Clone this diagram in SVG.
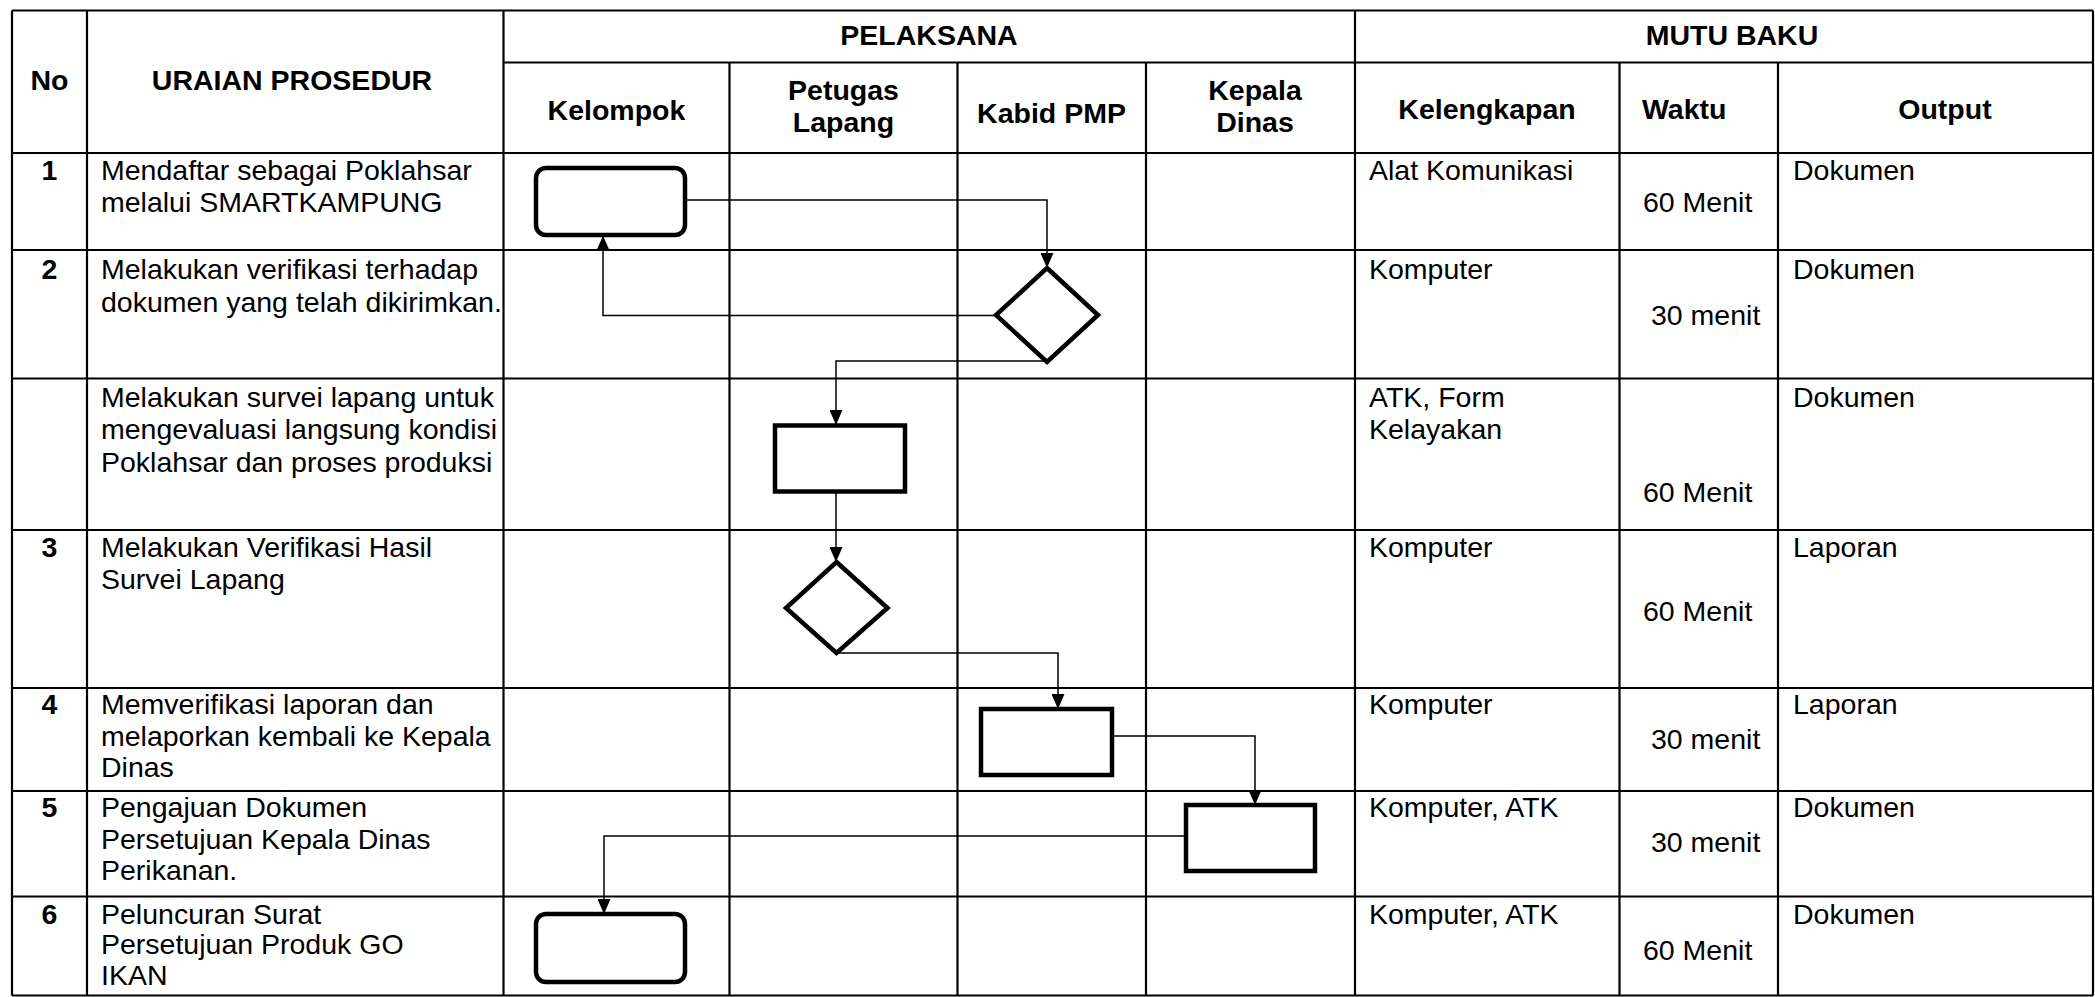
<svg xmlns="http://www.w3.org/2000/svg" width="2095" height="997" viewBox="0 0 2095 997">
<style>
  text { font-family: "Liberation Sans", Arial, sans-serif; font-size: 28.5px; fill: #000; }
  .b { font-weight: bold; }
  .c { text-anchor: middle; }
  .grid line { stroke: #000; stroke-width: 2.2; }
  .shape { fill: #fff; stroke: #000; stroke-width: 4.5; stroke-linejoin: miter; }
  .conn path { fill: none; stroke: #000; stroke-width: 1.5; }
</style>
<defs>
  <marker id="arr" markerUnits="userSpaceOnUse" markerWidth="15" markerHeight="13" refX="15" refY="6.5" orient="auto">
    <path d="M0,0 L15,6.5 L0,13 z" fill="#000"/>
  </marker>
</defs>
<rect x="0" y="0" width="2095" height="997" fill="#fff"/>

<g id="table" class="grid">
  <line x1="12" y1="10.5" x2="2093" y2="10.5"/>
  <line x1="503.5" y1="62.5" x2="2093" y2="62.5"/>
  <line x1="12" y1="153" x2="2093" y2="153"/>
  <line x1="12" y1="250" x2="2093" y2="250"/>
  <line x1="12" y1="378.5" x2="2093" y2="378.5"/>
  <line x1="12" y1="530" x2="2093" y2="530"/>
  <line x1="12" y1="688" x2="2093" y2="688"/>
  <line x1="12" y1="791" x2="2093" y2="791"/>
  <line x1="12" y1="896.5" x2="2093" y2="896.5"/>
  <line x1="12" y1="995.5" x2="2093" y2="995.5"/>
  <line x1="12" y1="10.5" x2="12" y2="995.5"/>
  <line x1="87" y1="10.5" x2="87" y2="995.5"/>
  <line x1="503.5" y1="10.5" x2="503.5" y2="995.5"/>
  <line x1="729.5" y1="62.5" x2="729.5" y2="995.5"/>
  <line x1="957.5" y1="62.5" x2="957.5" y2="995.5"/>
  <line x1="1146" y1="62.5" x2="1146" y2="995.5"/>
  <line x1="1355" y1="10.5" x2="1355" y2="995.5"/>
  <line x1="1619.5" y1="62.5" x2="1619.5" y2="995.5"/>
  <line x1="1778" y1="62.5" x2="1778" y2="995.5"/>
  <line x1="2093" y1="10.5" x2="2093" y2="995.5"/>
</g>

<g id="headers">
  <text class="b c" x="49.5" y="89.5">No</text>
  <text class="b c" x="292" y="89.5">URAIAN PROSEDUR</text>
  <text class="b c" x="929" y="45">PELAKSANA</text>
  <text class="b c" x="1732" y="45">MUTU BAKU</text>
  <text class="b c" x="616.5" y="119.5">Kelompok</text>
  <text class="b c" x="843.5" y="100">Petugas</text>
  <text class="b c" x="843.5" y="132">Lapang</text>
  <text class="b c" x="1051.5" y="122.5">Kabid PMP</text>
  <text class="b c" x="1255" y="100">Kepala</text>
  <text class="b c" x="1255" y="132">Dinas</text>
  <text class="b c" x="1487" y="119">Kelengkapan</text>
  <text class="b" x="1642" y="118.5">Waktu</text>
  <text class="b c" x="1945" y="118.5">Output</text>
</g>

<g id="row1">
  <text class="b c" x="49.5" y="180">1</text>
  <text x="101" y="180">Mendaftar sebagai Poklahsar</text>
  <text x="101" y="212">melalui SMARTKAMPUNG</text>
  <text x="1369" y="180">Alat Komunikasi</text>
  <text x="1643" y="212">60 Menit</text>
  <text x="1793" y="180">Dokumen</text>
</g>
<g id="row2">
  <text class="b c" x="49.5" y="278.5">2</text>
  <text x="101" y="278.5">Melakukan verifikasi terhadap</text>
  <text x="101" y="311.5">dokumen yang telah dikirimkan.</text>
  <text x="1369" y="278.5">Komputer</text>
  <text x="1651" y="325">30 menit</text>
  <text x="1793" y="278.5">Dokumen</text>
</g>
<g id="row2b">
  <text x="101" y="406.5">Melakukan survei lapang untuk</text>
  <text x="101" y="439">mengevaluasi langsung kondisi</text>
  <text x="101" y="471.5">Poklahsar dan proses produksi</text>
  <text x="1369" y="406.5">ATK, Form</text>
  <text x="1369" y="439">Kelayakan</text>
  <text x="1643" y="502">60 Menit</text>
  <text x="1793" y="406.5">Dokumen</text>
</g>
<g id="row3">
  <text class="b c" x="49.5" y="557">3</text>
  <text x="101" y="557">Melakukan Verifikasi Hasil</text>
  <text x="101" y="589">Survei Lapang</text>
  <text x="1369" y="557">Komputer</text>
  <text x="1643" y="621">60 Menit</text>
  <text x="1793" y="557">Laporan</text>
</g>
<g id="row4">
  <text class="b c" x="49.5" y="713.5">4</text>
  <text x="101" y="713.5">Memverifikasi laporan dan</text>
  <text x="101" y="746">melaporkan kembali ke Kepala</text>
  <text x="101" y="777">Dinas</text>
  <text x="1369" y="713.5">Komputer</text>
  <text x="1651" y="748.5">30 menit</text>
  <text x="1793" y="713.5">Laporan</text>
</g>
<g id="row5">
  <text class="b c" x="49.5" y="817">5</text>
  <text x="101" y="817">Pengajuan Dokumen</text>
  <text x="101" y="848.5">Persetujuan Kepala Dinas</text>
  <text x="101" y="880">Perikanan.</text>
  <text x="1369" y="817">Komputer, ATK</text>
  <text x="1651" y="852">30 menit</text>
  <text x="1793" y="817">Dokumen</text>
</g>
<g id="row6">
  <text class="b c" x="49.5" y="923.5">6</text>
  <text x="101" y="923.5">Peluncuran Surat</text>
  <text x="101" y="954">Persetujuan Produk GO</text>
  <text x="101" y="985">IKAN</text>
  <text x="1369" y="923.5">Komputer, ATK</text>
  <text x="1643" y="959.5">60 Menit</text>
  <text x="1793" y="923.5">Dokumen</text>
</g>

<g id="connectors" class="conn">
  <path d="M685,200 H1047 V268" marker-end="url(#arr)"/>
  <path d="M996,315.5 H603 V235.5" marker-end="url(#arr)"/>
  <path d="M1047,361 H836 V425" marker-end="url(#arr)"/>
  <path d="M836,492 V562" marker-end="url(#arr)"/>
  <path d="M836.5,653 H1058 V709" marker-end="url(#arr)"/>
  <path d="M1112,736 H1255 V805" marker-end="url(#arr)"/>
  <path d="M1186,836 H604 V914" marker-end="url(#arr)"/>
</g>

<g id="n1"><rect class="shape" x="536" y="168" width="149" height="67" rx="10"/></g>
<g id="n2"><polygon class="shape" points="1047,268 1098,315 1047,362 996,315"/></g>
<g id="n3"><rect class="shape" x="775" y="425.5" width="130" height="66"/></g>
<g id="n4"><polygon class="shape" points="836.5,562 887.5,608 836.5,653 786,608"/></g>
<g id="n5"><rect class="shape" x="981" y="709" width="131" height="66"/></g>
<g id="n6"><rect class="shape" x="1186" y="805" width="129" height="66"/></g>
<g id="n7"><rect class="shape" x="536" y="914" width="149" height="68" rx="10"/></g>
</svg>
